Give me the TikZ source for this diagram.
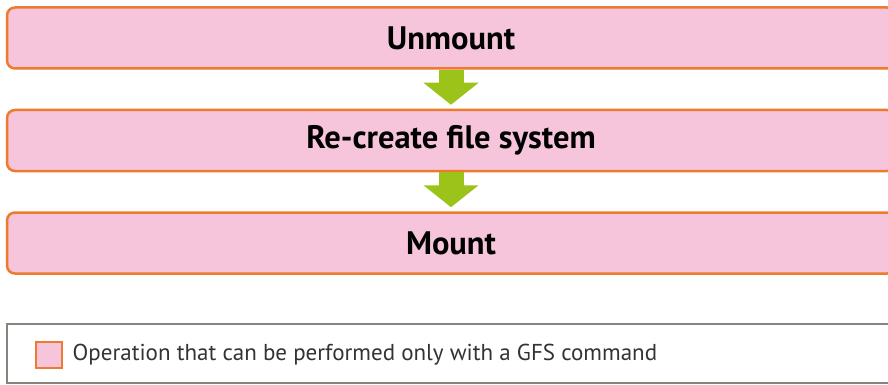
\documentclass[tikz,border=0pt]{standalone}
\usepackage{fontspec}
\setmainfont{PT Sans}
\usetikzlibrary{positioning}
\usetikzlibrary{arrows.meta}

\definecolor{opfill}{HTML}{F6C5DB}
\definecolor{opline}{HTML}{EE7A2E}
\definecolor{flowgreen}{HTML}{9CC31A}
\definecolor{legendline}{HTML}{85857D}

\begin{document}
\begin{tikzpicture}[
  x=1pt, y=-1pt,
  op/.style={
    rectangle,
    rounded corners=8pt,
    draw=opline,
    line width=2.5pt,
    fill=opfill,
    minimum width=888pt,
    minimum height=61pt,
    inner sep=0pt,
    font=\fontsize{32.5}{36}\selectfont\bfseries
  },
  flow/.style={line width=25pt, flowgreen, -{Triangle[length=22pt,width=54pt]}, shorten >=4pt},
  legendbox/.style={rectangle, draw=legendline, line width=2pt, minimum width=888pt, minimum height=59pt},
  key/.style={rectangle, draw=opline, line width=2pt, fill=opfill, minimum size=26pt, inner sep=0pt},
  keytext/.style={font=\fontsize{23}{26}\selectfont, text=black!80, inner sep=0pt}
]
\clip (0,0) rectangle (888,385);

% Steps
\node[op] (unmount) at (451,38) {Unmount};
\node[op, below=39pt of unmount] (recreate) {Re-create file system};
\node[op, below=39pt of recreate] (mount) {Mount};

% Arrows
\draw[flow] (unmount.south) -- (recreate.north);
\draw[flow] (recreate.south) -- (mount.north);

% Legend
\node[legendbox] (legend) at (451,353.5) {};
\node[key] (opkey) at (48.5,355) {};
\node[keytext, right=10pt of opkey] (optext) {Operation that can be performed only with a GFS command};

\end{tikzpicture}
\end{document}
